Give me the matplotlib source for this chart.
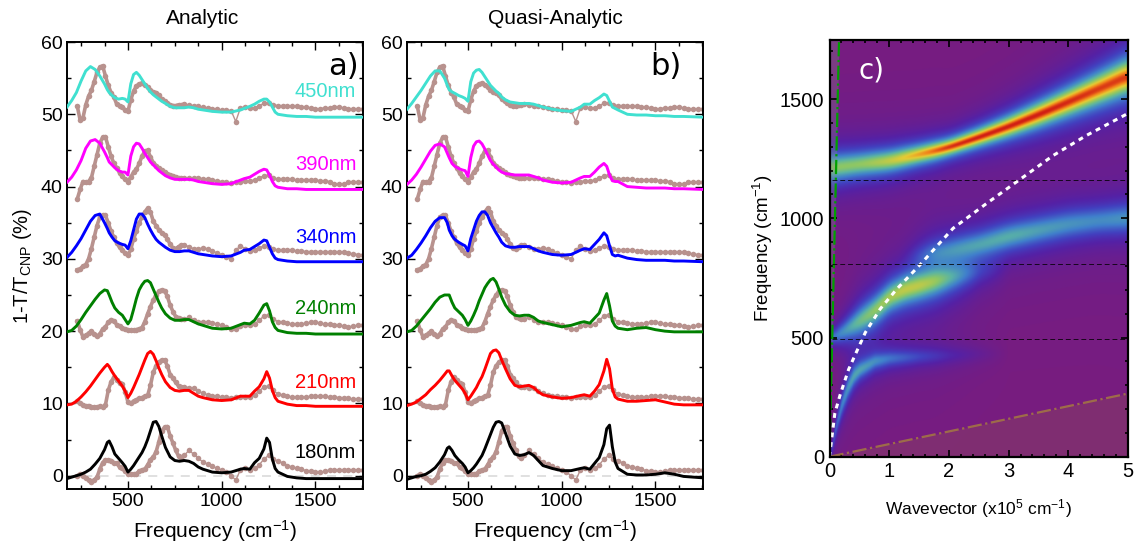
import numpy as np
import matplotlib
matplotlib.use('Agg')
import matplotlib.pyplot as plt
from matplotlib.colors import LinearSegmentedColormap
from matplotlib.ticker import MultipleLocator

plt.rcParams['font.family'] = ['Liberation Sans', 'DejaVu Sans']
plt.rcParams['mathtext.fontset'] = 'custom'
plt.rcParams['mathtext.rm'] = 'Liberation Sans'
plt.rcParams['mathtext.default'] = 'rm'

# Measured points, shared by panels a and b
x_exp = [230, 245, 260, 275, 290, 305, 320, 335, 350, 365, 380, 395, 410, 425, 440, 455, 470, 485, 500, 515,
         530, 545, 560, 575, 590, 605, 620, 635, 650, 665, 680, 695, 710, 725, 740, 755, 770, 785, 800,
         825, 850, 875, 900, 925, 950, 975, 1000, 1025, 1050, 1075, 1100, 1125, 1150, 1175, 1200, 1225, 1250,
         1275, 1300, 1325, 1350, 1375, 1400, 1425, 1450, 1475, 1500, 1525, 1550, 1575, 1600, 1625, 1650, 1675,
         1700, 1725, 1755]
exp_450 = [51.1, 49.2, 49.5, 51.3, 52.5, 53.3, 54.5, 55.8, 56.5, 56.7, 55.3, 54, 53, 52.4, 51.4, 51.2, 51, 50.6, 50.4, 52,
           53.2, 53.9, 54.2, 54.3, 54.1, 53.8, 53.3, 53.1, 53, 52.6, 52.1, 51.8, 51.6, 51.3, 51.2, 51.2, 51.3, 51.3, 51.4,
           51.3, 51.2, 51.1, 51, 50.9, 50.8, 50.7, 50.6, 50.6, 50.5, 49, 50.9, 51, 50.9, 50.9, 51.2, 51.5, 51.5,
           51.3, 51.2, 51.2, 51.2, 51.1, 51.1, 51, 51, 50.9, 50.7, 50.8, 50.9, 50.9, 51, 51, 50.9, 50.8, 50.7, 50.7, 50.7]
exp_390 = [38.3, 39.6, 40.7, 40.6, 40.7, 41.2, 42.8, 44.4, 46, 46.8, 46.9, 45.5, 44.2, 43.2, 42.6, 41.9, 41.4, 41, 40.7, 41.3,
           42, 42.4, 43.2, 44.2, 44.9, 45, 44.1, 43.3, 42.9, 42.5, 42.3, 42, 41.8, 41.6, 41.5, 41.3, 41.2, 41.2, 41.2,
           41.2, 41.2, 41.2, 41.1, 41, 40.9, 40.8, 40.7, 40.6, 40.5, 40.6, 40.7, 40.8, 40.8, 40.9, 41.2, 41.5, 41.6,
           41.2, 41, 41, 41, 41, 40.9, 40.9, 40.9, 40.9, 40.9, 40.8, 40.8, 40.7, 40.4, 40.3, 40.4, 40.6, 40.6, 40.6, 40.6]
exp_340 = [28.5, 28.6, 29, 29.2, 30, 31.4, 33, 34.6, 35.8, 36, 36, 35, 33.8, 33, 32.2, 31.6, 31.2, 30.8, 30.5, 31.3,
           32.8, 33.8, 35, 35.8, 36.5, 37, 36.5, 35.2, 34.6, 34, 33.6, 33.3, 32.8, 32, 31.5, 31.4, 31.7, 31.9, 31.9,
           31.7, 31.4, 31.4, 31.5, 31.4, 31.1, 30.8, 30.6, 30.3, 30, 31.2, 31.8, 31.4, 31.1, 31.2, 31.5, 31.8, 31.7,
           31.4, 31.2, 31.2, 31.2, 31.2, 31.1, 31.1, 31, 31, 31, 31, 31, 31, 31, 31, 30.9, 30.8, 30.7, 30.6, 30.5]
exp_240 = [21.4, 20.2, 19.2, 19.4, 19.7, 20, 19.6, 19.3, 19.6, 20.3, 20.6, 21.2, 21.6, 21.4, 20.9, 20.7, 20.4, 20.3, 20.2, 20.1,
           20.1, 20.2, 20.3, 20.5, 21.3, 22.4, 23.4, 24.3, 25, 25.5, 25.7, 25.6, 24.8, 23.6, 22.7, 22, 21.8, 21.7, 21.7,
           21.9, 21.6, 21.3, 21.3, 21.2, 21.1, 21, 20.8, 20.6, 20.3, 20.3, 20.7, 20.9, 20.8, 21, 21.5, 22.1, 22.3,
           21.7, 21.3, 21.2, 21.1, 21, 21, 21, 21.1, 21.2, 21.2, 21.1, 21, 21, 20.9, 20.8, 20.7, 20.6, 20.7, 20.8, 20.8]
exp_210 = [10.3, 10.1, 9.8, 9.6, 9.7, 9.5, 9.5, 9.5, 9.6, 9.5, 9.8, 11.8, 13, 13.6, 13.3, 12.8, 12.7, 11.6, 10.2, 10,
           10.3, 10.5, 10.7, 10.8, 11, 11.1, 12.5, 14.3, 15.2, 15.7, 16, 16, 15.2, 14, 13.5, 12.9, 12.4, 12.3, 12.3,
           12.2, 12.1, 11.7, 11.4, 11.2, 11, 11, 10.9, 10.9, 10.8, 10.9, 10.9, 10.9, 10.9, 11.2, 11.7, 12.3, 12.4,
           11.8, 11.3, 11.1, 11, 10.9, 10.9, 10.9, 10.9, 11, 11, 11, 11, 10.9, 10.9, 10.8, 10.8, 10.7, 10.6, 10.6, 10.6]
exp_180 = [0, 0.2, 0, -0.3, -0.6, -0.9, -0.6, -0.2, 0.9, 1.8, 2.2, 2.2, 2.1, 1.8, 1.7, 1.2, 1, 0.6, 0.3, 0.2,
           0.2, 0.3, 0.6, 0.8, 0.9, 1.5, 2.2, 2.6, 3.3, 4.7, 6.2, 6.7, 6.8, 5.5, 4.5, 3.5, 2.7, 2.5, 2.8,
           3.5, 3, 2.4, 1.9, 1.6, 1.3, 1, 0.8, 0.5, 0, -0.6, 0.8, 1, 0.8, 1, 1.5, 2.3, 2.8,
           2.3, 2, 1.8, 1.4, 1.2, 1, 0.9, 0.7, 0.6, 0.5, 0.5, 0.6, 0.8, 0.8, 0.8, 0.8, 0.8, 0.8, 0.8, 0.8]

# Model curves
x_th = [175, 200, 225, 250, 275, 300, 325, 350, 375, 390, 400, 415, 430, 450, 470, 485, 500,
        515, 530, 545, 560, 575, 590, 605, 620, 635, 650, 665, 680,
        700, 725, 750, 775, 800, 825, 850, 875, 900,
        950, 1000, 1050, 1100, 1120, 1150, 1175, 1200, 1225, 1240, 1255, 1270, 1285,
        1300, 1350, 1400, 1450, 1500, 1550, 1600, 1650, 1755]

a_450 = [51, 51.9, 53, 54.6, 56, 56.6, 56.2, 55.3, 54.2, 53.4, 53, 52.6, 52.3, 52.1, 52.2, 52.1, 51.7,
         54.2, 55.5, 55.8, 55.4, 54.8, 54.2, 53.6, 53.1, 52.7, 52.4, 52.1, 51.8,
         51.5, 51.1, 50.9, 50.9, 50.9, 51, 50.9, 50.7, 50.6,
         50.4, 50.3, 50.3, 50.6, 50.8, 51.1, 51.4, 51.8, 52.1, 52.1, 51.7, 51, 50.3,
         50, 49.8, 49.7, 49.7, 49.6, 49.6, 49.6, 49.6, 49.6]
a_390 = [40.6, 41.3, 42.3, 43.6, 45.3, 46.3, 46.5, 46, 44.8, 44, 43.4, 43, 42.6, 42.2, 42, 42, 41.6,
         44.2, 45.5, 46, 45.9, 45.3, 44.6, 44, 43.4, 43, 42.6, 42.2, 41.9,
         41.5, 41.2, 41, 41, 41, 41, 40.9, 40.7, 40.6,
         40.4, 40.3, 40.4, 40.9, 41.1, 41.3, 41.7, 42.1, 42.4, 42.3, 41.6, 40.7, 40.1,
         39.9, 39.7, 39.7, 39.6, 39.6, 39.6, 39.6, 39.6, 39.6]
a_340 = [30.2, 30.9, 31.8, 32.8, 34, 35.2, 36, 36.2, 35, 34.2, 33.6, 33, 32.5, 32.2, 32, 31.9, 31.4,
         32.5, 34, 35.5, 36.2, 36.2, 35.7, 34.8, 34, 33.3, 32.7, 32.3, 32,
         31.6, 31.2, 31, 31, 31.1, 31.1, 30.9, 30.7, 30.6,
         30.4, 30.3, 30.4, 30.9, 31.2, 31.3, 31.7, 32.1, 32.6, 32.5, 31.6, 30.7, 30.1,
         29.9, 29.7, 29.6, 29.6, 29.6, 29.6, 29.6, 29.6, 29.6]
a_240 = [19.9, 20.1, 20.7, 21.6, 22.6, 23.5, 24.4, 25.2, 25.7, 25.6, 25, 24, 23.2, 22.6, 22.2, 21.6, 21,
         21.6, 23, 24.5, 25.7, 26.4, 26.9, 27, 26.7, 25.8, 24.9, 24, 23.2,
         22.4, 21.8, 21.5, 21.5, 21.6, 21.6, 21.3, 21, 20.8,
         20.4, 20.3, 20.4, 20.9, 21.1, 21, 21.5, 22.5, 23.6, 23.8, 22.8, 21.3, 20.5,
         20.1, 19.8, 19.7, 19.7, 19.6, 19.6, 19.6, 19.6, 19.6]
a_210 = [9.8, 9.9, 10.3, 10.9, 11.6, 12.4, 13.3, 14.2, 15, 15.4, 15.1, 14.4, 13.8, 13.1, 12.4, 11.7, 10.8,
         11.4, 12.2, 13.1, 14, 15, 16, 16.9, 17.2, 16.8, 15.9, 14.9, 14,
         13, 12.2, 11.8, 11.7, 11.8, 11.8, 11.4, 11, 10.8,
         10.5, 10.4, 10.5, 11, 11, 11, 11.7, 12.3, 13.4, 14.4, 13.5, 11.8, 10.8,
         10.3, 9.9, 9.7, 9.7, 9.6, 9.6, 9.6, 9.6, 9.6]
a_180 = [-0.4, -0.2, 0, 0.2, 0.5, 0.9, 1.6, 2.4, 3.6, 4.6, 4.8, 4, 3, 2.4, 1.8, 1.3, 0.5,
         0.9, 1.4, 2, 2.6, 3.2, 4, 5, 6.2, 7.4, 7.5, 6.8, 5.5,
         3.9, 2.6, 2.1, 2, 2.1, 2, 1.7, 1.2, 0.9,
         0.5, 0.4, 0.5, 0.9, 1, 0.9, 1.8, 2.4, 3.7, 5.2, 4.6, 2.3, 1,
         0.5, -0.1, -0.3, -0.4, -0.4, -0.4, -0.4, -0.4, -0.4]

b_450 = [50.7, 51.5, 52.4, 53.3, 54.3, 55.3, 56, 56, 55, 54, 53.4, 53.1, 52.9, 52.6, 52.4, 52.2, 51.8,
         54.5, 55.7, 56.1, 56.2, 55.8, 55.2, 54.6, 54, 53.6, 53.2, 52.9, 52.4,
         52, 51.7, 51.6, 51.5, 51.5, 51.5, 51.4, 51.2, 51,
         50.7, 50.5, 50.4, 51, 51.4, 51.4, 51.9, 52.3, 52.8, 52.6, 51.8, 51, 50.8,
         50.6, 50, 49.9, 49.9, 49.8, 49.8, 49.7, 49.7, 49.6]
b_390 = [40.3, 40.9, 41.7, 42.7, 43.8, 44.9, 45.7, 45.9, 45.5, 44.6, 44, 43.2, 42.8, 42.5, 42.3, 42.2, 41.4,
         44, 45.6, 46.2, 46.3, 45.9, 45.2, 44.4, 43.6, 43.1, 42.7, 42.3, 42,
         41.8, 41.7, 41.6, 41.6, 41.6, 41.6, 41.4, 41.2, 40.9,
         40.6, 40.5, 40.6, 41.2, 41.4, 41.4, 42, 42.7, 43.2, 42.8, 41.6, 40.8, 40.7,
         40.7, 40, 39.9, 39.8, 39.8, 39.8, 39.7, 39.7, 39.6]
b_340 = [30.1, 30.5, 31.3, 32.2, 33.2, 34.3, 35.2, 35.7, 35.7, 35, 34, 33.2, 32.7, 32.3, 32, 31.8, 31.1,
         32.8, 34, 35.2, 36, 36.5, 36.5, 36, 35, 34.3, 33.6, 33, 32.3,
         31.8, 31.6, 31.6, 31.7, 31.7, 31.7, 31.4, 31.1, 30.9,
         30.6, 30.5, 30.6, 31.2, 31.4, 31.3, 32, 32.7, 33.6, 33.2, 31.8, 30.6, 30.4,
         30.5, 30.1, 29.9, 29.8, 29.8, 29.8, 29.7, 29.7, 29.6]
b_240 = [19.9, 20.1, 20.7, 21.5, 22.3, 23.1, 24, 24.7, 25, 25, 25, 24, 23.2, 22.7, 22.2, 21.6, 20.8,
         21.4, 22.2, 23.1, 24.2, 25.1, 26, 26.6, 27.1, 27.3, 26.8, 25.8, 24.7,
         23.6, 22.7, 22.2, 22.1, 22.2, 22.2, 21.9, 21.4, 21.2,
         20.9, 20.6, 20.8, 21.2, 21.3, 21.1, 21.8, 22.5, 24.3, 25.2, 23.5, 21.4, 20.7,
         20.4, 20.2, 20.4, 20.5, 20.2, 20, 19.9, 19.9, 19.9]
b_210 = [9.7, 9.9, 10.2, 10.7, 11.2, 11.9, 12.5, 13.2, 14, 14.5, 14.5, 13.8, 13.2, 12.6, 12, 11.4, 10.5,
         11, 11.6, 12.2, 13, 13.7, 14.7, 15.8, 16.9, 17.3, 17.4, 17, 16,
         14.8, 13.4, 12.5, 12.3, 12.4, 12.5, 12.2, 11.6, 11.2,
         10.9, 10.7, 10.8, 11.1, 11.2, 11, 11.7, 12.6, 14.5, 16.1, 14.8, 12, 10.9,
         10.6, 10.3, 10.3, 10.4, 10.5, 10.2, 9.9, 9.8, 9.8]
b_180 = [-0.5, -0.3, -0.1, 0, 0.2, 0.6, 1.1, 1.9, 2.9, 3.8, 4, 3.5, 2.8, 2.2, 1.7, 1.2, 0.4,
         0.7, 1.1, 1.6, 2.2, 2.8, 3.7, 4.7, 5.7, 6.7, 7.4, 7.5, 7.3,
         5.9, 4.1, 3, 2.8, 2.9, 3.2, 2.8, 2.1, 1.4,
         1, 0.7, 0.7, 1, 1.1, 0.9, 1.7, 2.5, 4.3, 6.5, 7, 4, 1.9,
         1, 0.2, 0.1, 0.1, 0.2, 0.4, 0.2, -0.1, -0.3]

labels = ['450nm', '390nm', '340nm', '240nm', '210nm', '180nm']
colors = ['#40E0D0', '#FF00FF', '#0000FF', '#008000', '#FF0000', '#000000']
label_y = [53.2, 43.1, 33, 23.2, 12.9, 3.2]
exp_all = [exp_450, exp_390, exp_340, exp_240, exp_210, exp_180]
a_all = [a_450, a_390, a_340, a_240, a_210, a_180]
b_all = [b_450, b_390, b_340, b_240, b_210, b_180]

# Panel c: the map is rebuilt from ridges
k_upper = [0.05, 0.5, 1, 1.5, 1.75, 2, 2.5, 3, 3.5, 4, 4.5, 5]
f_upper = [1212, 1226, 1240, 1268, 1282, 1298, 1340, 1385, 1435, 1488, 1542, 1597]
amp_upper = [0.5, 0.5, 0.6, 0.76, 0.88, 0.97, 1, 1, 1, 0.98, 0.95, 0.95]
wid_upper = [48, 44, 38, 30, 27, 24, 26, 30, 35, 40, 46, 52]

k_mid_low = [0.05, 0.1, 0.25, 0.5, 0.75, 1, 1.25, 1.5, 1.75, 2, 2.25, 2.5, 3]
f_mid_low = [500, 507, 528, 570, 613, 670, 701, 718, 735, 750, 765, 775, 790]
amp_mid_low = [0.22, 0.25, 0.3, 0.42, 0.5, 0.55, 0.6, 0.58, 0.5, 0.35, 0.22, 0.1, 0]
wid_mid_low = [28, 34, 42, 52, 52, 50, 50, 50, 52, 54, 56, 56, 56]

k_mid_up = [1.25, 1.5, 1.75, 2, 2.5, 3, 3.5, 4, 4.5, 5]
f_mid_up = [835, 845, 855, 865, 889, 924, 950, 975, 990, 1000]
amp_mid_up = [0, 0.1, 0.2, 0.25, 0.33, 0.37, 0.33, 0.3, 0.28, 0.3]
wid_mid_up = [52, 52, 52, 52, 52, 52, 54, 56, 56, 56]

k_low = [0, 0.05, 0.1, 0.2, 0.3, 0.4, 0.5, 0.75, 1, 1.5, 2, 2.5, 3]
f_low = [0, 60, 125, 220, 290, 340, 365, 400, 412, 420, 425, 430, 430]
amp_low = [0.1, 0.15, 0.2, 0.26, 0.3, 0.33, 0.32, 0.27, 0.22, 0.14, 0.08, 0.04, 0]
wid_low = [30, 34, 38, 42, 42, 38, 34, 32, 32, 34, 38, 38, 38]

k_plasmon = [0, 0.09, 0.18, 0.32, 0.46, 0.6, 0.85, 1.13, 1.52, 2.07, 2.63, 3.19, 3.75, 4.3, 5]
f_plasmon = [0, 183, 261, 366, 444, 521, 620, 704, 806, 958, 1062, 1163, 1264, 1347, 1440]
k_light = [0, 0.16]
f_light = [0, 1750]
k_phonon = [0, 5]
f_phonon = [0, 265]
f_resonance = [1162, 808, 493]


def setup_panel(ax):
    ax.set_xlim(175, 1755)
    ax.set_ylim(-1.84, 60)
    ax.xaxis.set_major_locator(MultipleLocator(500))
    ax.xaxis.set_minor_locator(MultipleLocator(125))
    ax.yaxis.set_major_locator(MultipleLocator(10))
    ax.yaxis.set_minor_locator(MultipleLocator(5))
    ax.tick_params(which='both', direction='in', top=True, right=True, width=1)
    ax.tick_params(which='major', length=6, labelsize=14, pad=3)
    ax.tick_params(which='minor', length=3)
    for s in ax.spines.values():
        s.set_linewidth(1.4)
    ax.set_xlabel('Frequency (cm$^{-1}$)', fontsize=15)
    ax.xaxis.set_label_coords(0.5, -0.064)


def draw_panel(ax, curves):
    ax.axhline(0, color='#dddddd', lw=1.3, dashes=(5, 4), zorder=1)
    for exp_y, th_y, color in zip(exp_all, curves, colors):
        ax.plot(x_exp[:39], exp_y[:39], color='#b8928e', lw=2.6, zorder=2)
        ax.plot(x_exp, exp_y, '-o', color='#b8928e', lw=1.0, ms=4.0, mew=0, zorder=2)
        ax.plot(x_th, th_y, color=color, lw=2.1, zorder=3)


def smooth(values, n):
    padded = np.pad(values, n, mode='edge')
    return np.convolve(padded, np.ones(n) / n, mode='same')[n:-n]


def ridge_map(k, f, k_tab, f_tab, amp_tab, wid_tab, n):
    center = smooth(np.interp(k, k_tab, f_tab), n)
    amp = smooth(np.interp(k, k_tab, amp_tab), n)
    wid = smooth(np.interp(k, k_tab, wid_tab), n)
    return amp / (1 + ((f[:, None] - center) / wid) ** 2)


fig = plt.figure(figsize=(11.42, 5.46), dpi=100)
W, H = 1142.0, 546.0

ax_a = fig.add_axes([67 / W, 1 - 489 / H, 296.3 / W, 447 / H])
ax_b = fig.add_axes([407 / W, 1 - 489 / H, 296.3 / W, 447 / H])
ax_c = fig.add_axes([829.5 / W, 1 - 456.7 / H, 298.5 / W, 417.2 / H])

setup_panel(ax_a)
setup_panel(ax_b)
draw_panel(ax_a, a_all)
draw_panel(ax_b, b_all)

for name, y, color in zip(labels, label_y, colors):
    ax_a.text(1718, y, name, color=color, fontsize=14.5, ha='right', va='center')

ax_a.set_title('Analytic', fontsize=15, pad=13, x=0.456)
ax_b.set_title('Quasi-Analytic', fontsize=15, pad=13)
ax_a.set_ylabel('1-T/T$_{CNP}$ (%)', fontsize=14.5)
ax_a.yaxis.set_label_coords(-0.112, 0.5)
ax_a.text(1732, 56.6, 'a)', fontsize=22, family='DejaVu Sans', ha='right', va='center')
ax_b.text(1640, 56.6, 'b)', fontsize=22, family='DejaVu Sans', ha='right', va='center')

# Panel c
k_grid = np.linspace(0, 5, 500)
f_grid = np.linspace(0, 1750, 875)
field = (ridge_map(k_grid, f_grid, k_upper, f_upper, amp_upper, wid_upper, 31)
         + ridge_map(k_grid, f_grid, k_mid_low, f_mid_low, amp_mid_low, wid_mid_low, 15)
         + ridge_map(k_grid, f_grid, k_mid_up, f_mid_up, amp_mid_up, wid_mid_up, 31)
         + ridge_map(k_grid, f_grid, k_low, f_low, amp_low, wid_low, 5))
cmap = LinearSegmentedColormap.from_list('polariton', [
    (0.0, (0.47, 0.11, 0.50)), (0.08, (0.33, 0.13, 0.65)), (0.15, (0.26, 0.25, 0.75)),
    (0.26, (0.25, 0.50, 0.80)), (0.38, (0.35, 0.70, 0.65)), (0.50, (0.55, 0.78, 0.40)),
    (0.68, (0.90, 0.80, 0.20)), (0.84, (0.95, 0.50, 0.10)), (1.0, (0.82, 0.12, 0.08))])
ax_c.imshow(field, origin='lower', extent=[0, 5, 0, 1750], aspect='auto', cmap=cmap, vmin=0, vmax=1,
            interpolation='bilinear')

ax_c.fill_betweenx(f_light, 0, k_light, color='#888888', alpha=0.32, lw=0)
ax_c.fill_between(k_phonon, 0, f_phonon, color='#a06a40', alpha=0.22, lw=0)
ax_c.plot(k_light, f_light, color='#00a000', lw=1.6, ls='-.')
ax_c.plot(k_phonon, f_phonon, color='#a8803c', lw=1.6, ls='-.', alpha=0.8)
ax_c.plot(k_plasmon, f_plasmon, color='white', lw=2.2, dashes=(1.6, 1.6))
for f0 in f_resonance:
    ax_c.plot([0.05, 5], [f0, f0], color='black', lw=0.7, dashes=(5, 3), alpha=0.8)

ax_c.set_xlim(0, 5)
ax_c.set_ylim(0, 1750)
ax_c.xaxis.set_major_locator(MultipleLocator(1))
ax_c.xaxis.set_minor_locator(MultipleLocator(0.2))
ax_c.yaxis.set_major_locator(MultipleLocator(500))
ax_c.yaxis.set_minor_locator(MultipleLocator(100))
ax_c.tick_params(which='both', direction='in', top=True, right=True, width=1.2)
ax_c.tick_params(which='major', length=5, labelsize=14.5, pad=4)
ax_c.tick_params(which='minor', length=2.5)
for s in ax_c.spines.values():
    s.set_linewidth(1.6)
ax_c.set_xlabel('Wavevector (x10$^{5}$ cm$^{-1}$)', fontsize=12.5)
ax_c.xaxis.set_label_coords(0.5, -0.097)
ax_c.set_ylabel('Frequency (cm$^{-1}$)', fontsize=13.5)
ax_c.yaxis.set_label_coords(-0.182, 0.5)
ax_c.text(0.48, 1620, 'c)', color='white', fontsize=20, family='DejaVu Sans', va='center')

plt.savefig('out.png', dpi=100)
plt.close()
